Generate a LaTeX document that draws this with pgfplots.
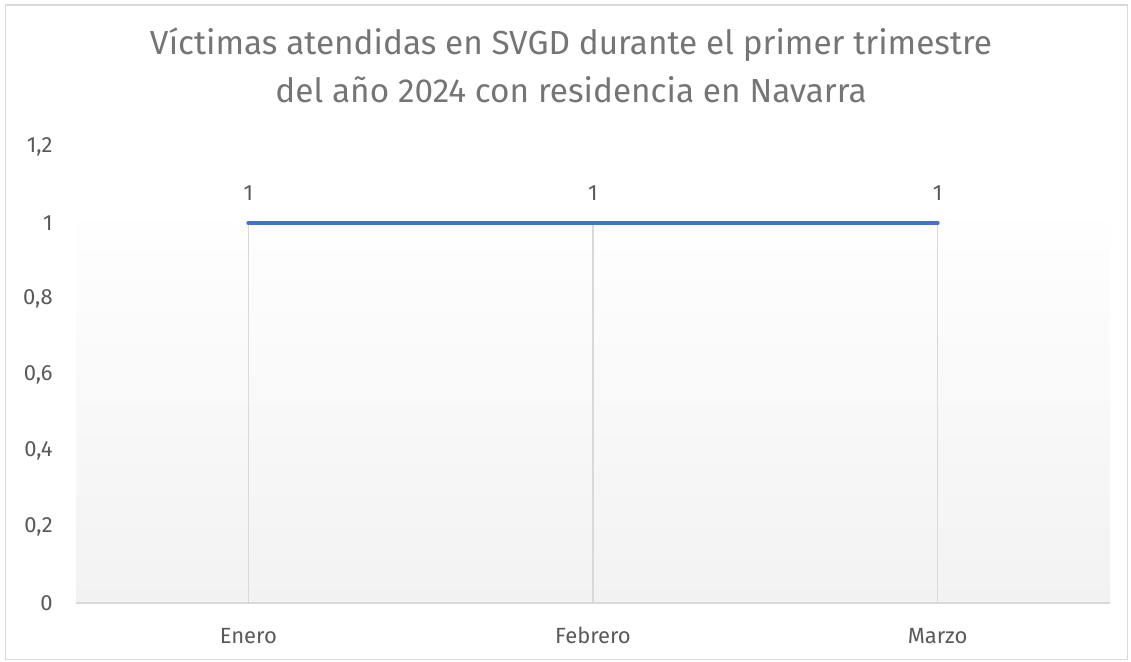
\documentclass[border=0pt]{standalone}
\usepackage{fontspec}
\setmainfont{Fira Sans}
\usepackage{pgfplots}
\pgfplotsset{compat=1.18}
\definecolor{titlegray}{HTML}{757575}
\definecolor{tickgray}{HTML}{595959}
\definecolor{linegray}{HTML}{D9D9D9}
\definecolor{bgbottom}{HTML}{F2F2F2}
\definecolor{lineblue}{HTML}{4472C4}
\begin{document}
\begin{tikzpicture}
\useasboundingbox (0,0) rectangle (848.25pt,495.75pt);
\draw[linegray, line width=1pt] (4pt,1pt) rectangle (845.5pt,492pt);
\node[text=titlegray, font=\fontsize{25}{30}\selectfont, anchor=base] at (428.25pt,454.5pt) {Víctimas atendidas en SVGD durante el primer trimestre};
\node[text=titlegray, font=\fontsize{25}{30}\selectfont, anchor=base] at (428.25pt,418.5pt) {del año 2024 con residencia en Navarra};
\begin{axis}[
  at={(57pt,43.5pt)}, anchor=south west,
  scale only axis,
  width=775.5pt, height=342pt,
  xmin=-0.5, xmax=2.5,
  ymin=0, ymax=1.2,
  xtick={0,1,2},
  xticklabels={Enero,Febrero,Marzo},
  ytick={0,0.2,0.4,0.6,0.8,1,1.2},
  /pgf/number format/use comma,
  /pgf/number format/assume math mode=true,
  axis line style={draw=none},
  major tick length=0pt,
  tick style={draw=none},
  xticklabel style={text=tickgray, font=\fontsize{16.5}{18}\selectfont, anchor=base, yshift=-30pt},
  yticklabel style={text=tickgray, font=\fontsize{16.5}{18}\selectfont, anchor=east, xshift=-14pt},
  clip=false,
]
\fill[top color=white, bottom color=bgbottom, draw=none] (axis cs:-0.5,0) rectangle (axis cs:2.5,1.047);
\draw[linegray, line width=1pt] (axis cs:-0.5,0) -- (axis cs:2.5,0);
\addplot[ycomb, draw=linegray, line width=1.2pt, mark=none] coordinates {(0,1) (1,1) (2,1)};
\addplot[lineblue, line width=3pt, line cap=round, mark=none,
  nodes near coords, every node near coord/.append style={text=tickgray, font=\fontsize{16.5}{18}\selectfont, anchor=base, yshift=17pt}]
  coordinates {(0,1) (1,1) (2,1)};
\end{axis}
\end{tikzpicture}
\end{document}
